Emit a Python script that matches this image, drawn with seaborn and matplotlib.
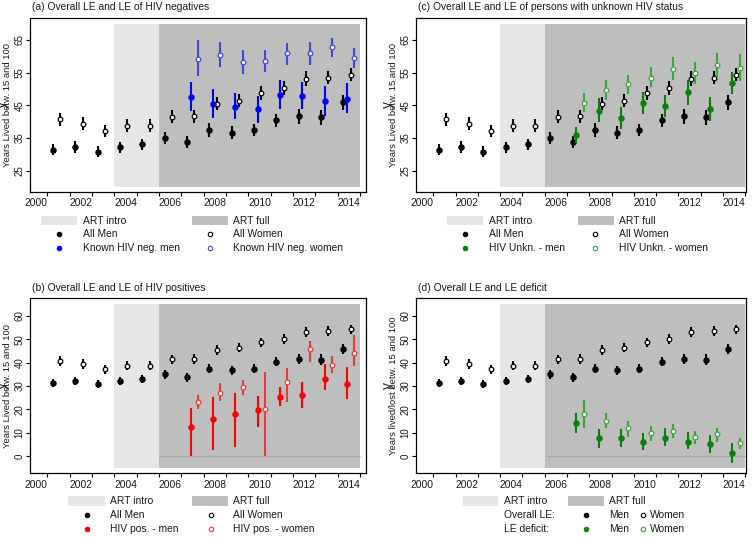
import matplotlib
matplotlib.use("Agg")
import matplotlib.pyplot as plt
import seaborn as sns
import pandas as pd
from matplotlib.patches import Rectangle
from matplotlib.lines import Line2D

# ---------------- data ----------------
years = [2001, 2002, 2003, 2004, 2005, 2006, 2007, 2008, 2009, 2010, 2011, 2012, 2013, 2014]
years_sub = [2007, 2008, 2009, 2010, 2011, 2012, 2013, 2014]
art_intro = [2004, 2006]
art_full = [2006, 2015]
x_tick_years = [2001, 2002, 2003, 2004, 2005, 2006, 2007, 2008, 2009, 2010, 2011, 2012, 2013, 2014, 2015]
x_label_years = [2000, 2002, 2004, 2006, 2008, 2010, 2012, 2014]
y_ticks_top = [25, 35, 45, 55, 65]
y_ticks_bot = [0, 10, 20, 30, 40, 50, 60]

all_men = [31.4, 32.2, 30.8, 32.2, 33.1, 35.0, 33.7, 37.5, 36.7, 37.5, 40.5, 41.6, 41.3, 45.9]
all_men_err = [1.7, 1.8, 1.7, 1.7, 1.7, 1.8, 1.8, 2.1, 1.9, 1.8, 2.0, 2.2, 2.3, 2.3]
all_women = [40.8, 39.4, 37.1, 38.8, 38.8, 41.5, 41.6, 45.5, 46.4, 48.7, 50.2, 53.2, 53.5, 54.3]
all_women_err = [2.0, 2.0, 1.9, 1.9, 1.9, 2.0, 2.0, 2.0, 2.0, 2.1, 2.1, 2.3, 2.1, 2.0]

neg_men = [47.5, 45.4, 44.5, 43.8, 48.2, 47.8, 46.3, 46.9]
neg_men_lo = [43.3, 41.1, 40.9, 39.7, 44.0, 43.9, 41.8, 42.6]
neg_men_hi = [52.0, 49.9, 48.7, 47.9, 52.8, 52.0, 50.8, 51.8]
neg_women = [59.3, 60.4, 58.2, 58.6, 60.9, 61.1, 62.7, 59.5]
neg_women_lo = [54.1, 56.7, 54.6, 55.2, 57.4, 57.2, 59.7, 56.3]
neg_women_hi = [65.0, 64.3, 61.9, 61.9, 64.2, 64.5, 65.5, 62.4]

unk_men = [36.0, 43.4, 41.1, 45.7, 44.8, 49.0, 44.0, 51.7]
unk_men_lo = [33.6, 39.8, 37.8, 42.3, 41.4, 45.2, 40.1, 48.5]
unk_men_hi = [38.5, 47.2, 44.4, 49.1, 48.2, 52.8, 47.7, 55.3]
unk_women = [45.8, 49.7, 51.4, 53.5, 56.1, 54.9, 57.2, 56.3]
unk_women_lo = [42.9, 46.7, 48.4, 50.5, 52.8, 51.6, 53.6, 52.5]
unk_women_hi = [48.9, 52.8, 54.3, 56.6, 59.7, 58.4, 61.1, 60.7]

pos_men = [12.3, 15.9, 17.9, 19.6, 25.4, 26.1, 33.1, 30.9]
pos_men_lo = [0.0, 2.4, 3.9, 12.3, 21.3, 20.4, 28.4, 24.4]
pos_men_hi = [20.4, 25.4, 27.1, 25.9, 29.6, 31.6, 39.4, 38.3]
pos_women = [23.3, 26.9, 29.4, 20.3, 31.7, 45.7, 39.0, 44.3]
pos_women_lo = [20.0, 23.6, 26.1, 0.0, 23.3, 40.4, 35.4, 38.7]
pos_women_hi = [26.1, 31.4, 32.6, 36.1, 37.9, 49.4, 43.0, 51.9]

def_men = [14.3, 7.6, 7.9, 6.1, 7.9, 6.1, 5.1, 1.3]
def_men_lo = [9.7, 3.6, 3.9, 2.6, 4.4, 3.0, 1.1, -2.9]
def_men_hi = [18.3, 11.6, 11.6, 10.0, 11.9, 10.1, 9.0, 5.4]
def_women = [18.1, 15.1, 12.1, 10.0, 10.7, 8.0, 9.3, 5.4]
def_women_lo = [12.1, 11.9, 8.3, 6.4, 7.6, 5.3, 6.1, 2.9]
def_women_hi = [24.0, 18.3, 15.1, 13.0, 13.7, 10.9, 11.9, 7.9]

# ---------------- style ----------------
sns.set_style("white")
plt.rcParams['font.family'] = ['Liberation Sans', 'DejaVu Sans']
FS = 7.4
FS_YT = 7.0
FS_YL = 6.8
TXT = "#1a1a1a"
LIGHT = "#e6e6e6"
DARK = "#bebebe"
OFF_MEN, OFF_SUBMEN, OFF_WOMEN, OFF_SUBWOMEN = 0.25, 0.42, 0.58, 0.75

W, H = 755, 537
fig = plt.figure(figsize=(W / 100, H / 100), dpi=100)


def ax_at(l, t, r, b):
    return fig.add_axes([l / W, 1 - b / H, (r - l) / W, (b - t) / H])


def series(ax, yrs, off, val, lo, hi, color, face, s, z):
    xs = [y + off for y in yrs]
    ax.vlines(xs, lo, hi, colors=color, lw=1.5, zorder=z)
    df = pd.DataFrame({"x": xs, "y": val})
    sns.scatterplot(data=df, x="x", y="y", ax=ax, color=face, edgecolor=color,
                    linewidth=0.9, s=s, marker="o", zorder=z + 1, legend=False)


def base_panel(ax, ylim, yticks, shade_y, xlim, zero_line=False):
    ax.set_xlim(*xlim)
    ax.set_ylim(*ylim)
    ax.add_patch(Rectangle((art_intro[0], shade_y[0]), art_intro[1] - art_intro[0],
                           shade_y[1] - shade_y[0], facecolor=LIGHT, edgecolor="none", zorder=0))
    ax.add_patch(Rectangle((art_full[0], shade_y[0]), art_full[1] - art_full[0],
                           shade_y[1] - shade_y[0], facecolor=DARK, edgecolor="none", zorder=0))
    if zero_line:
        ax.hlines(0, art_full[0], art_full[1], colors="#a6a6a6", lw=0.9, zorder=0.5)
    series(ax, years, OFF_MEN, all_men,
           [v - e for v, e in zip(all_men, all_men_err)],
           [v + e for v, e in zip(all_men, all_men_err)], "black", "black", 14, 3)
    series(ax, years, OFF_WOMEN, all_women,
           [v - e for v, e in zip(all_women, all_women_err)],
           [v + e for v, e in zip(all_women, all_women_err)], "black", "white", 11, 3)
    ax.set_xticks(x_tick_years)
    ax.set_xticklabels([])
    ax.set_xticks([y + 0.5 for y in x_label_years], minor=True)
    ax.set_xticklabels([str(y) for y in x_label_years], minor=True, fontsize=FS, color=TXT)
    ax.tick_params(axis="x", which="major", direction="out", length=2.9, width=0.8, color="black", bottom=True)
    ax.tick_params(axis="x", which="minor", length=0, pad=4.5, bottom=True)
    ax.set_yticks(yticks)
    ax.set_yticklabels([str(v) for v in yticks], rotation=90, va="center", fontsize=FS_YT, color=TXT)
    ax.tick_params(axis="y", direction="out", length=2.9, width=0.8, color="black", pad=0.9, left=True)
    for sp in ax.spines.values():
        sp.set_visible(True)
        sp.set_color("black")
        sp.set_linewidth(0.9)
    ax.set_xlabel("")
    ax.set_ylabel("")


def ftext(x, y, s, fs=FS, **kw):
    fig.text(x / W, 1 - y / H, s, fontsize=fs, color=TXT, **kw)


def leg_patch(x0, x1, yc, color):
    fig.add_artist(Rectangle((x0 / W, 1 - (yc + 4.6) / H), (x1 - x0) / W, 9.3 / H,
                             transform=fig.transFigure, facecolor=color, edgecolor="none"))


def leg_marker(x, y, face, edge):
    fig.add_artist(Line2D([x / W], [1 - y / H], transform=fig.transFigure, marker="o",
                          ms=3.2, mfc=face, mec=edge, mew=0.8, ls="none"))


XL_L = (2000.22, 2015.27)
XL_R = (2000.22, 2015.05)
YL_T = (18.6, 71.8)
YL_B = (-7.4, 67.6)
YLAB_X_L, YLAB_X_R = 7.6, 393.4

# ---- (a) ----
axa = ax_at(30, 17.7, 366, 191.7)
base_panel(axa, YL_T, y_ticks_top, (20, 70), XL_L)
series(axa, years_sub, OFF_SUBMEN, neg_men, neg_men_lo, neg_men_hi, "#0000ff", "#0000ff", 14, 4)
series(axa, years_sub, OFF_SUBWOMEN, neg_women, neg_women_lo, neg_women_hi, "#4646e6", "white", 11, 4)
ftext(32, 7.5, "(a) Overall LE and LE of HIV negatives", ha="left", va="center")
ftext(YLAB_X_L, 104.7, "Years Lived betw. 15 and 100", fs=FS_YL, rotation=90, ha="center", va="center")

# ---- (c) ----
axc = ax_at(416, 17.7, 746.3, 191.7)
base_panel(axc, YL_T, y_ticks_top, (20, 70), XL_R)
series(axc, years_sub, OFF_SUBMEN, unk_men, unk_men_lo, unk_men_hi, "#0a800a", "#0a800a", 14, 4)
series(axc, years_sub, OFF_SUBWOMEN, unk_women, unk_women_lo, unk_women_hi, "#3ca63c", "white", 11, 4)
ftext(418, 7.5, "(c) Overall LE and LE of persons with unknown HIV status", ha="left", va="center")
ftext(YLAB_X_R, 104.7, "Years Lived betw. 15 and 100", fs=FS_YL, rotation=90, ha="center", va="center")

# ---- (b) ----
axb = ax_at(30, 298.3, 366, 473.3)
base_panel(axb, YL_B, y_ticks_bot, (-5, 65), XL_L, zero_line=True)
series(axb, years_sub, OFF_SUBMEN, pos_men, pos_men_lo, pos_men_hi, "#ff0000", "#ff0000", 14, 4)
series(axb, years_sub, OFF_SUBWOMEN, pos_women, pos_women_lo, pos_women_hi, "#e83c3c", "white", 11, 4)
ftext(32, 288, "(b) Overall LE and LE of HIV positives", ha="left", va="center")
ftext(YLAB_X_L, 385.8, "Years Lived betw. 15 and 100", fs=FS_YL, rotation=90, ha="center", va="center")

# ---- (d) ----
axd = ax_at(416, 298.3, 746.3, 473.3)
base_panel(axd, YL_B, y_ticks_bot, (-5, 65), XL_R, zero_line=True)
series(axd, years_sub, OFF_SUBMEN, def_men, def_men_lo, def_men_hi, "#0a800a", "#0a800a", 14, 4)
series(axd, years_sub, OFF_SUBWOMEN, def_women, def_women_lo, def_women_hi, "#3ca63c", "white", 11, 4)
ftext(418, 288, "(d) Overall LE and LE deficit", ha="left", va="center")
ftext(YLAB_X_R, 385.8, "Years lived/lost betw. 15 and 100", fs=FS_YL, rotation=90, ha="center", va="center")

# ---------------- legends ----------------
# (a)
r1, r2, r3 = 220.7, 234.0, 248.0
leg_patch(40.7, 77.3, r1, LIGHT); ftext(82.7, r1, "ART intro", va="center")
leg_patch(192, 228.3, r1, DARK); ftext(233, r1, "ART full", va="center")
leg_marker(58.5, r2, "black", "black"); ftext(82.7, r2, "All Men", va="center")
leg_marker(210, r2, "white", "black"); ftext(233, r2, "All Women", va="center")
leg_marker(58.5, r3, "#0000ff", "#0000ff"); ftext(82.7, r3, "Known HIV neg. men", va="center")
leg_marker(210, r3, "white", "#4646e6"); ftext(233, r3, "Known HIV neg. women", va="center")

# (c)
leg_patch(447, 483, r1, LIGHT); ftext(488.7, r1, "ART intro", va="center")
leg_patch(577.7, 613.7, r1, DARK); ftext(619.3, r1, "ART full", va="center")
leg_marker(464.5, r2, "black", "black"); ftext(488.7, r2, "All Men", va="center")
leg_marker(594.5, r2, "white", "black"); ftext(619.3, r2, "All Women", va="center")
leg_marker(464.5, r3, "#0a800a", "#0a800a"); ftext(488.7, r3, "HIV Unkn. - men", va="center")
leg_marker(594.5, r3, "white", "#3ca63c"); ftext(619.3, r3, "HIV Unkn. - women", va="center")

# (b)
s1, s2, s3 = 501.0, 514.7, 529.0
leg_patch(68.3, 105, s1, LIGHT); ftext(110, s1, "ART intro", va="center")
leg_patch(192.3, 228.3, s1, DARK); ftext(233.3, s1, "ART full", va="center")
leg_marker(86.7, s2, "black", "black"); ftext(110, s2, "All Men", va="center")
leg_marker(210.7, s2, "white", "black"); ftext(233.3, s2, "All Women", va="center")
leg_marker(86.7, s3, "#ff0000", "#ff0000"); ftext(110, s3, "HIV pos. - men", va="center")
leg_marker(210.7, s3, "white", "#e83c3c"); ftext(233.3, s3, "HIV pos. - women", va="center")

# (d)
leg_patch(462.7, 498, s1, LIGHT); ftext(504.3, s1, "ART intro", va="center")
leg_patch(568, 603.7, s1, DARK); ftext(609.3, s1, "ART full", va="center")
ftext(504.3, s2, "Overall LE:", va="center")
leg_marker(585.5, s2, "black", "black"); ftext(609.3, s2, "Men", va="center")
leg_marker(643, s2, "white", "black"); ftext(650.3, s2, "Women", va="center")
ftext(504.3, s3, "LE deficit:", va="center")
leg_marker(585.5, s3, "#0a800a", "#0a800a"); ftext(609.3, s3, "Men", va="center")
leg_marker(643, s3, "white", "#3ca63c"); ftext(650.3, s3, "Women", va="center")

fig.savefig("out.png", dpi=100, facecolor="white")
